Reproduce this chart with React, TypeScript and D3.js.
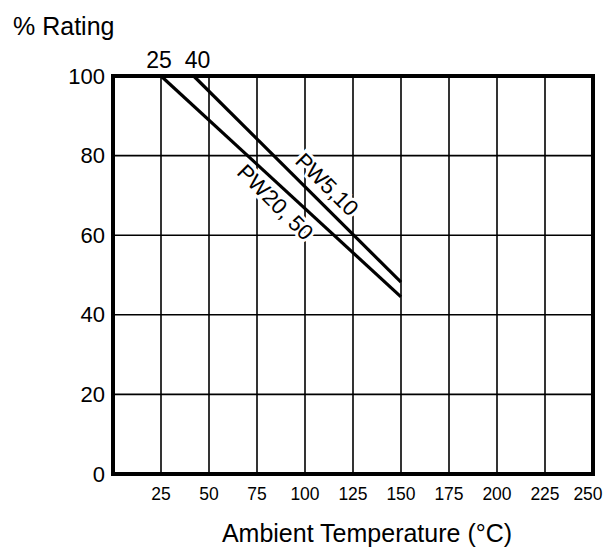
import React from 'react';
import * as d3 from 'd3';

// derating curves
const curveNames = ['PW20, 50', 'PW5,10'];
const curveTemps = [
  [25, 150],
  [42, 150],
];
const curveRatings = [
  [100, 44.5],
  [100, 48.2],
];
const startLabels = ['25', '40'];

const xTicks = [25, 50, 75, 100, 125, 150, 175, 200, 225, 250];
const yTicks = [0, 20, 40, 60, 80, 100];

const W = 612;
const H = 551;
const font = '"Liberation Sans", Arial, Helvetica, sans-serif';

function App() {
  const x = d3.scaleLinear().domain([0, 250]).range([113, 593]);
  const y = d3.scaleLinear().domain([0, 100]).range([474, 76]);
  const line = d3
    .line<[number, number]>()
    .x((d) => x(d[0]))
    .y((d) => y(d[1]));

  const curves = curveNames.map((name, i) => ({
    name,
    pts: curveTemps[i].map((t, j) => [t, curveRatings[i][j]] as [number, number]),
  }));

  // label placement along each line (fraction of the way, offset normal to line)
  const labelSpots = [
    { frac: 0.52, off: 15.5 },
    { frac: 0.585, off: -17 },
  ];

  return (
    <svg
      width={W}
      height={H}
      style={{ position: 'absolute', left: 0, top: 0, background: '#fff' }}
      fontFamily={font}
    >
      <text x={13} y={35} fontSize={25} fill="#000">
        % Rating
      </text>

      {/* grid */}
      <g stroke="#000" strokeWidth={1.6}>
        {xTicks
          .filter((t) => t < 250)
          .map((t) => (
            <line key={'gx' + t} x1={x(t)} x2={x(t)} y1={y(0)} y2={y(100)} />
          ))}
        {yTicks
          .filter((t) => t > 0 && t < 100)
          .map((t) => (
            <line key={'gy' + t} x1={x(0)} x2={x(250)} y1={y(t)} y2={y(t)} />
          ))}
      </g>

      {/* curves */}
      {curves.map((c) => (
        <path key={c.name} d={line(c.pts) || ''} fill="none" stroke="#000" strokeWidth={3.2} />
      ))}

      {/* curve labels */}
      {curves.map((c, i) => {
        const [p0, p1] = c.pts;
        const x0 = x(p0[0]);
        const y0 = y(p0[1]);
        const x1 = x(p1[0]);
        const y1 = y(p1[1]);
        const f = labelSpots[i].frac;
        const cx = x0 + (x1 - x0) * f;
        const cy = y0 + (y1 - y0) * f;
        const len = Math.hypot(x1 - x0, y1 - y0);
        const nx = -(y1 - y0) / len;
        const ny = (x1 - x0) / len;
        const off = labelSpots[i].off;
        return (
          <text
            key={'lab' + i}
            transform={`translate(${cx + nx * off},${cy + ny * off}) rotate(45)`}
            textAnchor="middle"
            dominantBaseline="central"
            fontSize={22}
            fill="#000"
            stroke="#fff"
            strokeWidth={6}
            paintOrder="stroke"
          >
            {c.name}
          </text>
        );
      })}

      {/* frame */}
      <rect
        x={x(0)}
        y={y(100)}
        width={x(250) - x(0)}
        height={y(0) - y(100)}
        fill="none"
        stroke="#000"
        strokeWidth={4}
      />

      {/* start temperatures above the frame */}
      {curves.map((c, i) => (
        <text
          key={'st' + i}
          x={x(c.pts[0][0]) + (i === 0 ? -2 : 4)}
          y={68}
          textAnchor="middle"
          fontSize={23}
          fill="#000"
        >
          {startLabels[i]}
        </text>
      ))}

      {/* y axis labels */}
      {yTicks.map((t) => (
        <text
          key={'yl' + t}
          x={105}
          y={y(t)}
          textAnchor="end"
          dominantBaseline="central"
          fontSize={22}
          fill="#000"
        >
          {t}
        </text>
      ))}

      {/* x axis labels */}
      {xTicks.map((t) => (
        <text
          key={'xl' + t}
          x={t === 250 ? x(t) - 5 : x(t)}
          y={500}
          textAnchor="middle"
          fontSize={17.5}
          fill="#000"
        >
          {t}
        </text>
      ))}

      <text x={367} y={542} textAnchor="middle" fontSize={25} fill="#000">
        Ambient Temperature (°C)
      </text>
    </svg>
  );
}

export default App;
